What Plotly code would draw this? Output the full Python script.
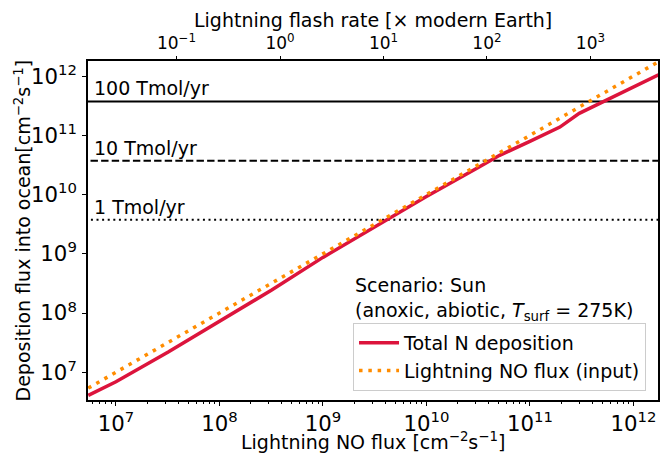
import numpy as np
import plotly.graph_objects as go

# ---- data ----
lightning_no_flux = [5.4e6, 1e7, 3.2e7, 1e8, 3.2e8, 1e9, 4e9, 1e10, 3.2e10, 5.1e10,
                     1e11, 1.95e11, 3.0e11, 5.5e11, 1e12, 1.75e12]
total_n_deposition = [4.07e6, 6.9e6, 2.19e7, 7.1e7, 2.45e8, 8.7e8, 3.7e9, 9.3e9, 2.9e10, 4.6e10,
                      7.9e10, 1.38e11, 2.35e11, 3.9e11, 6.5e11, 1.05e12]
tmol_levels = [1, 10, 100]
tmol_labels = ["1 Tmol/yr", "10 Tmol/yr", "100 Tmol/yr"]
tmol_dash = ["2px,3.6px", "7.4px,3.2px", "solid"]
flux_per_tmol = 3.74e9          # cm^-2 s^-1 per Tmol/yr
modern_earth_no_flux = 3.85e8   # cm^-2 s^-1 (1x modern Earth)
flash_ticks = [0.1, 1, 10, 100, 1000]
flash_ticktext = ["10<sup>−1</sup>", "10<sup>0</sup>", "10<sup>1</sup>",
                  "10<sup>2</sup>", "10<sup>3</sup>"]

x_range = [5.37e6, 1.73e12]
y_range = [3.4e6, 1.8e12]

FONT = "DejaVu Sans"
TXT = 19
TICK = 17
fig = go.Figure()

lx = [np.log10(x_range[0]) - 1, np.log10(x_range[1]) + 1]
for lvl, dash in zip(tmol_levels, tmol_dash):
    yv = lvl * flux_per_tmol
    fig.add_trace(go.Scatter(x=[10 ** lx[0], 10 ** lx[1]], y=[yv, yv], mode="lines",
                             line=dict(color="black", width=2, dash=dash),
                             showlegend=False, hoverinfo="skip"))

fig.add_trace(go.Scatter(x=lightning_no_flux, y=total_n_deposition, mode="lines",
                         name="Total N deposition",
                         line=dict(color="#DC143C", width=3.5)))
fig.add_trace(go.Scatter(x=lightning_no_flux, y=lightning_no_flux, mode="lines",
                         name="Lightning NO flux (input)",
                         line=dict(color="#FF8C00", width=3.5, dash="3.5px,5.8px")))

# invisible trace for top axis
fig.add_trace(go.Scatter(x=[x_range[0] / modern_earth_no_flux, x_range[1] / modern_earth_no_flux],
                         y=[y_range[0], y_range[0]], xaxis="x2", mode="markers",
                         marker=dict(opacity=0), showlegend=False, hoverinfo="skip"))

for lvl, lab in zip(tmol_levels, tmol_labels):
    fig.add_annotation(x=0.0105, xref="paper", y=np.log10(lvl * flux_per_tmol), yref="y",
                       text=lab, showarrow=False, xanchor="left", yanchor="bottom",
                       yshift=0, xshift=-2, font=dict(family=FONT, size=TXT, color="black"))

fig.add_annotation(x=0.468, y=0.304, xref="paper", yref="paper", showarrow=False,
                   xanchor="left", yanchor="middle", align="left", xshift=-2, yshift=-2,
                   text="Scenario: Sun<br>(anoxic, abiotic, <i>T</i><sub>surf</sub> = 275K)",
                   font=dict(family=FONT, size=TXT, color="black"))

# axis titles as annotations
fig.add_annotation(x=0.5, y=0, xref="paper", yref="paper", yanchor="middle", yshift=-41,
                   showarrow=False, text="Lightning NO flux [cm<sup>−2</sup>s<sup>−1</sup>]",
                   font=dict(family=FONT, size=TXT, color="black"))
fig.add_annotation(x=0.5, y=1, xref="paper", yref="paper", yanchor="middle", yshift=41,
                   showarrow=False, text="Lightning flash rate [× modern Earth]",
                   font=dict(family=FONT, size=TXT, color="black"))
fig.add_annotation(x=0, y=0.5, xref="paper", yref="paper", xanchor="center", yanchor="middle",
                   xshift=-66, textangle=-90, showarrow=False,
                   text="Deposition flux into ocean[cm<sup>−2</sup>s<sup>−1</sup>]",
                   font=dict(family=FONT, size=TXT, color="black"))

tickfont = dict(family=FONT, size=TICK, color="black")
fig.update_layout(
    width=670, height=453,
    margin=dict(l=88, r=12, t=61, b=53, autoexpand=False),
    paper_bgcolor="white", plot_bgcolor="white",
    font=dict(family=FONT, size=TXT, color="black"),
    xaxis=dict(type="log", range=[np.log10(x_range[0]), np.log10(x_range[1])],
               showgrid=False, zeroline=False, showline=True, linecolor="black",
               linewidth=1.5, mirror=True, ticks="outside", ticklen=4, tickwidth=1,
               tickcolor="black", dtick=1, exponentformat="power", tickfont=tickfont,
               automargin=False, ticklabelstandoff=1,
               minor=dict(ticks="outside", ticklen=2, tickwidth=0.8, tickcolor="black",
                          dtick="D1", showgrid=False)),
    xaxis2=dict(type="log", overlaying="x", side="top",
                range=[np.log10(x_range[0] / modern_earth_no_flux),
                       np.log10(x_range[1] / modern_earth_no_flux)],
                showgrid=False, zeroline=False, showline=False, automargin=False,
                ticks="outside", ticklen=4, tickwidth=1, tickcolor="black",
                tickmode="array", tickvals=flash_ticks, ticktext=flash_ticktext,
                tickfont=tickfont),
    yaxis=dict(type="log", range=[np.log10(y_range[0]), np.log10(y_range[1])],
               showgrid=False, zeroline=False, showline=True, linecolor="black",
               linewidth=1.5, mirror=True, ticks="outside", ticklen=4, tickwidth=1,
               tickcolor="black", dtick=1, exponentformat="power", tickfont=tickfont,
               automargin=False, ticklabelstandoff=2),
    legend=dict(x=0.979, y=0.0265, xanchor="right", yanchor="bottom",
                bgcolor="rgba(255,255,255,0.8)", bordercolor="#cccccc", borderwidth=1,
                font=dict(family=FONT, size=TXT, color="black"), itemwidth=40,
                tracegroupgap=2),
)

fig.write_html("out.html", config={"displayModeBar": False},
               post_script="document.body.style.margin='0';")
